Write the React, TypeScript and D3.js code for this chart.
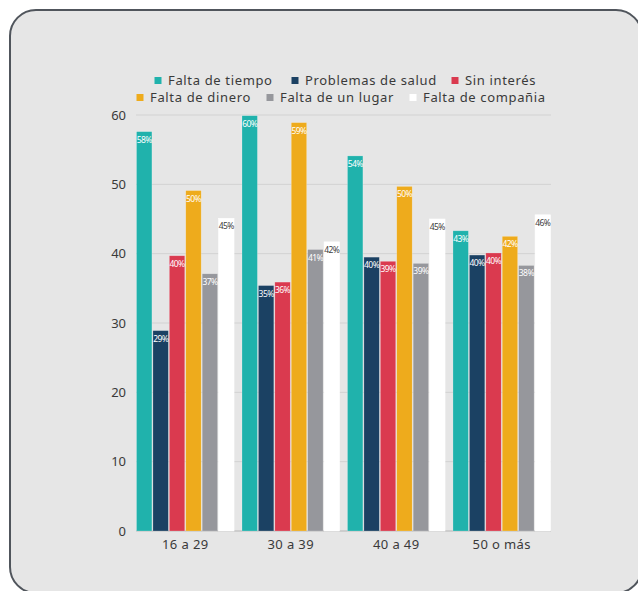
import React from "react";
import * as d3 from "d3";

const categories = ["16 a 29", "30 a 39", "40 a 49", "50 o más"];
const seriesNames = [
  "Falta de tiempo",
  "Problemas de salud",
  "Sin interés",
  "Falta de dinero",
  "Falta de un lugar",
  "Falta de compañia",
];
const seriesColors = ["#20b2ac", "#1b4163", "#da3a4f", "#eeab1c", "#96979c", "#ffffff"];
const labelColors = ["#ffffff", "#ffffff", "#ffffff", "#ffffff", "#ffffff", "#404040"];

// values per series, one per category
const faltaTiempo = [57.6, 59.9, 54.1, 43.3];
const problemasSalud = [28.9, 35.4, 39.5, 39.8];
const sinInteres = [39.7, 35.9, 38.9, 40.1];
const faltaDinero = [49.1, 58.9, 49.7, 42.5];
const faltaLugar = [37.1, 40.6, 38.6, 38.3];
const faltaCompania = [45.1, 41.7, 45.0, 45.6];
const seriesValues = [faltaTiempo, problemasSalud, sinInteres, faltaDinero, faltaLugar, faltaCompania];

const labelsTiempo = ["58%", "60%", "54%", "43%"];
const labelsSalud = ["29%", "35%", "40%", "40%"];
const labelsInteres = ["40%", "36%", "39%", "40%"];
const labelsDinero = ["50%", "59%", "50%", "42%"];
const labelsLugar = ["37%", "41%", "39%", "38%"];
const labelsCompania = ["45%", "42%", "45%", "46%"];
const seriesLabels = [labelsTiempo, labelsSalud, labelsInteres, labelsDinero, labelsLugar, labelsCompania];

const yTicks = [0, 10, 20, 30, 40, 50, 60];

const FONT = "'Noto Sans', 'DejaVu Sans', sans-serif";
const TEXT = "#3a3a3a";

export default function App() {
  const W = 638;
  const H = 591;
  const left = 136;
  const right = 551;
  const top = 115;
  const bottom = 531;

  const x0 = d3.scaleBand<string>().domain(categories).range([left, right]).paddingInner(0.066).paddingOuter(0);
  const x1 = d3
    .scaleBand<string>()
    .domain(seriesNames)
    .range([0, x0.bandwidth()])
    .padding(0);
  const y = d3.scaleLinear().domain([0, 60]).range([bottom, top]);

  const legendRow1 = [0, 1, 2];
  const legendRow2 = [3, 4, 5];
  const legendPos1 = [158, 295, 455];
  const legendPos2 = [140, 270, 413];

  return (
    <svg
      width={W}
      height={H}
      style={{ position: "absolute", left: 0, top: 0, background: "#ffffff" }}
      fontFamily={FONT}
    >
      <rect x={10} y={10} width={632} height={583} rx={26} ry={26} fill="#e6e6e6" stroke="#50555c" strokeWidth={2} />

      {/* gridlines */}
      {yTicks.map((t) => (
        <line
          key={"g" + t}
          x1={left}
          x2={right}
          y1={y(t)}
          y2={y(t)}
          stroke={t === 0 ? "#c4c4c4" : "#d2d2d2"}
          strokeWidth={t === 0 ? 1.5 : 1}
        />
      ))}
      {yTicks.map((t) => (
        <text key={"t" + t} x={126} y={y(t)} dy="0.35em" textAnchor="end" fontSize={13} fill={TEXT}>
          {t}
        </text>
      ))}

      {/* bars */}
      {categories.map((c, ci) => (
        <g key={c} transform={`translate(${x0(c)},0)`}>
          {seriesNames.map((s, si) => {
            const v = seriesValues[si][ci];
            const bx = x1(s)!;
            const bw = x1.bandwidth();
            return (
              <g key={s}>
                <rect
                  x={bx + 0.5}
                  y={y(v)}
                  width={bw - 1}
                  height={y(0) - y(v)}
                  fill={seriesColors[si]}
                  stroke={si === 5 ? "#ffffff" : "rgba(255,255,255,0.35)"}
                  strokeWidth={0.6}
                />
                <text
                  x={bx + bw / 2}
                  y={y(v) + 11}
                  textAnchor="middle"
                  fontSize={8.5}
                  letterSpacing={-0.6}
                  fill={labelColors[si]}
                >
                  {seriesLabels[si][ci]}
                </text>
              </g>
            );
          })}
        </g>
      ))}

      {/* category labels */}
      {categories.map((c) => (
        <text
          key={"c" + c}
          x={x0(c)! + x0.bandwidth() / 2}
          y={549}
          textAnchor="middle"
          fontSize={13}
          letterSpacing={0.4}
          fill={TEXT}
        >
          {c}
        </text>
      ))}

      {/* legend */}
      {legendRow1.map((si, i) => (
        <g key={"l" + si}>
          <rect x={legendPos1[i] - 3.5} y={77} width={7} height={7} fill={seriesColors[si]} />
          <text x={legendPos1[i] + 10} y={80.5} dy="0.35em" fontSize={13} letterSpacing={0.65} fill={TEXT}>
            {seriesNames[si]}
          </text>
        </g>
      ))}
      {legendRow2.map((si, i) => (
        <g key={"l" + si}>
          <rect x={legendPos2[i] - 3.5} y={94} width={7} height={7} fill={seriesColors[si]} />
          <text x={legendPos2[i] + 10} y={97.5} dy="0.35em" fontSize={13} letterSpacing={0.65} fill={TEXT}>
            {seriesNames[si]}
          </text>
        </g>
      ))}
    </svg>
  );
}
